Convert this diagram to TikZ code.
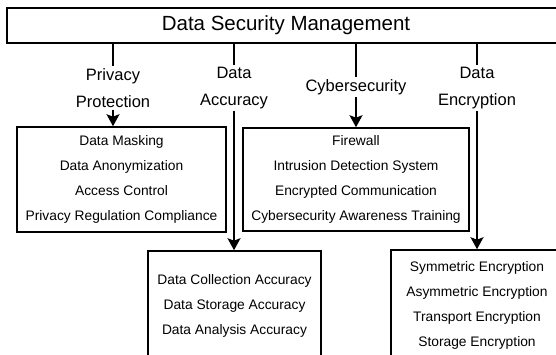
\documentclass[tikz,border=0pt]{standalone}
\usepackage{fontspec}
\setmainfont{Liberation Sans}
\usetikzlibrary{arrows.meta}

\begin{document}
\begin{tikzpicture}[x=1pt,y=-1pt]
\tikzstyle{topic} = [rectangle, minimum width=558pt, minimum height=35pt, inner sep=0pt, text centered, draw=black, line width=1.6pt, font=\fontsize{20.5}{24}\selectfont]
\tikzstyle{branch} = [align=center, inner sep=2pt, font=\fontsize{16.5}{26.5}\selectfont]
\tikzstyle{listbox} = [rectangle, inner sep=0pt, align=center, draw=black, line width=1.6pt, font=\fontsize{13.8}{25}\selectfont]
\tikzstyle{arrow} = [line width=1.6pt,-{Stealth[length=12pt,width=13pt,inset=2.5pt]}]
\tikzstyle{stem} = [line width=1.6pt]

\useasboundingbox (0,0) rectangle (556,354);
\clip (0,0) rectangle (556,354);

\node (top1) [topic] at (286,25.5) {Data Security Management};

\node (lbl1) [branch] at (113,88) {Privacy\\Protection};
\node (lbl2) [branch] at (234,88) {Data\\Accuracy};
\node (lbl3) [branch] at (356,87) {Cybersecurity};
\node (lbl4) [branch] at (477,88) {Data\\Encryption};

\node (box1) [listbox, minimum width=209pt, minimum height=105pt] at (121.5,179.5) {Data Masking\\Data Anonymization\\Access Control\\Privacy Regulation Compliance};
\node (box2) [listbox, minimum width=226pt, minimum height=103pt] at (356,179.5) {Firewall\\Intrusion Detection System\\Encrypted Communication\\Cybersecurity Awareness Training};
\node (box3) [listbox, minimum width=173pt, minimum height=110pt] at (234.5,306) {Data Collection Accuracy\\Data Storage Accuracy\\Data Analysis Accuracy};
\node (box4) [listbox, minimum width=172pt, minimum height=111pt] at (477,305.5) {Symmetric Encryption\\Asymmetric Encryption\\Transport Encryption\\Storage Encryption};

\draw [stem] (top1.south -| lbl1) -- (lbl1);
\draw [stem] (top1.south -| lbl2) -- (lbl2);
\draw [stem] (top1.south -| lbl3) -- (lbl3);
\draw [stem] (top1.south -| lbl4) -- (lbl4);

\draw [arrow] (lbl1) -- (lbl1 |- box1.north);
\draw [arrow] (lbl2) -- (lbl2 |- box3.north);
\draw [arrow] (lbl3) -- (lbl3 |- box2.north);
\draw [arrow] (lbl4) -- (lbl4 |- box4.north);
\end{tikzpicture}
\end{document}
